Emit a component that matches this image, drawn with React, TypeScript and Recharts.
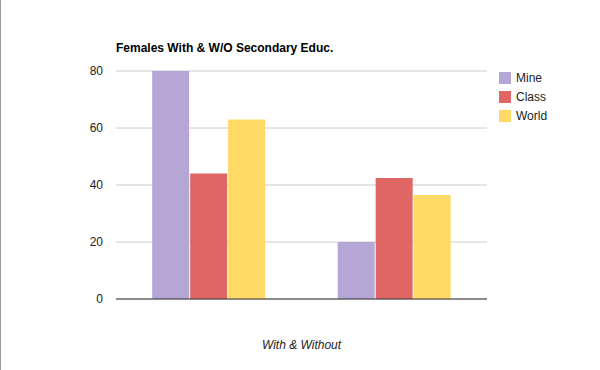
import React from 'react'
import { BarChart, Bar, XAxis, YAxis, CartesianGrid } from 'recharts'

const categories = ['With', 'Without']
const mineValues = [80, 20]
const classValues = [44, 42.5]
const worldValues = [63, 36.5]
const yTicks = [0, 20, 40, 60, 80]

const SERIES = [
  { key: 'Mine', color: '#b4a7d6' },
  { key: 'Class', color: '#e06666' },
  { key: 'World', color: '#ffd966' },
]

const data = categories.map((name, i) => ({
  name,
  Mine: mineValues[i],
  Class: classValues[i],
  World: worldValues[i],
}))

const FONT = 'Arial, "Liberation Sans", sans-serif'

// plain overlay legend, keeps series order and doesn't squeeze the plot
const ChartLegend = () => (
  <div style={{ position: 'absolute', left: 499, top: 68, fontFamily: FONT, fontSize: 12, color: '#222' }}>
    {SERIES.map((s) => (
      <div key={s.key} style={{ display: 'flex', alignItems: 'center', height: 19 }}>
        <span style={{ display: 'inline-block', width: 12, height: 12, background: s.color, marginRight: 5 }} />
        <span style={{ lineHeight: '12px' }}>{s.key}</span>
      </div>
    ))}
  </div>
)

export default function App() {
  return (
    <div style={{ position: 'absolute', left: 0, top: 0, width: 600, height: 370, background: '#fff', fontFamily: FONT }}>
      <div style={{ position: 'absolute', left: 0, top: 0, width: 1, height: 370, background: '#9a9a9a' }} />
      <div
        style={{
          position: 'absolute',
          left: 116,
          top: 42,
          fontSize: 12,
          lineHeight: '12px',
          fontWeight: 'bold',
          color: '#000',
          whiteSpace: 'nowrap',
        }}
      >
        Females With &amp; W/O Secondary Educ.
      </div>
      <BarChart
        width={600}
        height={370}
        data={data}
        margin={{ top: 71, right: 113, bottom: 0, left: 0 }}
        barCategoryGap="19.5%"
        barGap={1}
      >
        <CartesianGrid vertical={false} stroke="#cccccc" />
        <XAxis
          dataKey="name"
          height={71}
          tick={false}
          tickLine={false}
          axisLine={{ stroke: '#333333' }}
          label={{
            value: 'With & Without',
            position: 'insideBottom',
            offset: 21,
            style: { fontFamily: FONT, fontSize: 12, fontStyle: 'italic', fill: '#222' },
          }}
        />
        <YAxis
          width={116}
          domain={[0, 80]}
          ticks={yTicks}
          axisLine={false}
          tickLine={false}
          tickSize={0}
          tickMargin={13}
          tick={{ fontFamily: FONT, fontSize: 12, fill: '#222' }}
        />
        {SERIES.map((s) => (
          <Bar key={s.key} dataKey={s.key} fill={s.color} isAnimationActive={false} />
        ))}
      </BarChart>
      <ChartLegend />
    </div>
  )
}
